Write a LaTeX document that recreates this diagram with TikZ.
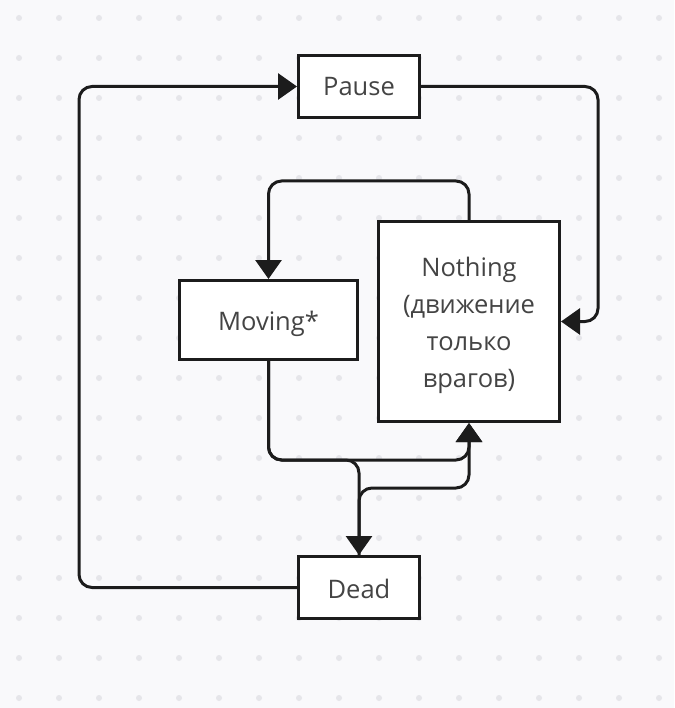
\documentclass[tikz,border=0pt]{standalone}
\usepackage{fontspec}
\setmainfont{Open Sans}
\usetikzlibrary{arrows.meta}
\definecolor{bgc}{HTML}{F9F9FB}
\definecolor{dotc}{HTML}{E6E6EA}
\definecolor{linec}{HTML}{1C1C1C}
\definecolor{textc}{HTML}{444444}
\newcommand{\lowertext}[2]{\raisebox{0pt}[\dimexpr\height+#1\relax][\depth]{#2}}
\tikzset{
  statebox/.style={draw=linec, line width=3pt, fill=white, text=textc, align=center,
    font=\fontsize{25.5}{37}\selectfont, inner sep=0pt},
  conn/.style={draw=linec, line width=3pt, rounded corners=13pt,
    -{Triangle[length=19pt,width=26pt]}},
}
\begin{document}
\begin{tikzpicture}[x=1pt,y=-1pt]
\useasboundingbox (0,0) rectangle (674,708);
\fill[bgc] (0,0) rectangle (674,708);
\foreach \i in {0,...,16}{
  \foreach \j in {0,...,17}{
    \fill[dotc] (19+40*\i,18+40*\j) circle (3pt);
  }
}
\node[statebox, minimum width=121pt, minimum height=62pt] (pause) at (359,86.5) {Pause};
\node[statebox, minimum width=178pt, minimum height=79pt] (moving) at (268.5,320) {\lowertext{8pt}{Moving*}};
\node[statebox, minimum width=181pt, minimum height=200pt] (nothing) at (469,321.5)
  {\lowertext{7pt}{\begin{tabular}{@{}c@{}}Nothing\\(движение\\только\\врагов)\end{tabular}}};
\node[statebox, minimum width=121pt, minimum height=62pt] (dead) at (359,587.5) {\lowertext{2pt}{Dead}};

\draw[conn] (dead.west) -- (79,587.5) |- (pause.west);
\draw[conn] (pause.east) -- (598,86.5) |- (nothing.east);
\draw[conn] (nothing.north) -- ++(0,-39) -| (moving.north);
\draw[conn] (moving.south) -- ++(0,99) -| (nothing.south);
\draw[conn] (moving.south) -- ++(0,99) -| (dead.north);
\draw[conn] (dead.north) -- ++(0,-67) -| (nothing.south);
\end{tikzpicture}
\end{document}
